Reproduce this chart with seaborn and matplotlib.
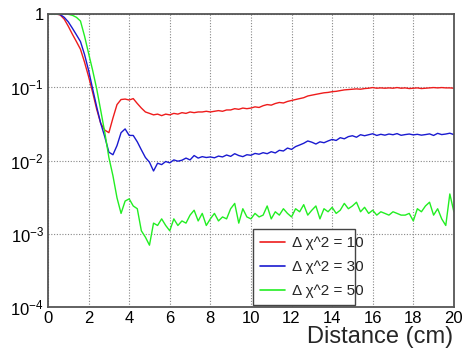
import numpy as np
import pandas as pd
import matplotlib
matplotlib.use("Agg")
import matplotlib.pyplot as plt
import seaborn as sns
from matplotlib.ticker import FixedLocator, LogLocator, NullFormatter, FixedFormatter
from matplotlib.lines import Line2D

distance = np.round(np.arange(0, 20.01, 0.2), 1)

red_10 = [1.0, 1.0, 1.0, 0.97, 0.85, 0.68, 0.53, 0.42, 0.33, 0.22,
          0.14, 0.085, 0.05, 0.032, 0.026, 0.024, 0.038, 0.058, 0.068, 0.069,
          0.067, 0.070, 0.060, 0.052, 0.046, 0.044, 0.042, 0.043, 0.041, 0.043,
          0.042, 0.044, 0.043, 0.045, 0.044, 0.046, 0.045, 0.046, 0.046, 0.047,
          0.046, 0.047, 0.048, 0.047, 0.049, 0.049, 0.051, 0.050, 0.052, 0.051,
          0.052, 0.054, 0.053, 0.056, 0.058, 0.057, 0.060, 0.062, 0.061, 0.064,
          0.066, 0.068, 0.070, 0.072, 0.076, 0.078, 0.080, 0.082, 0.084, 0.085,
          0.087, 0.088, 0.090, 0.092, 0.093, 0.094, 0.095, 0.094, 0.096, 0.097,
          0.099, 0.097, 0.098, 0.097, 0.098, 0.097, 0.099, 0.097, 0.098, 0.096,
          0.097, 0.098, 0.096, 0.097, 0.098, 0.099, 0.098, 0.099, 0.098, 0.098,
          0.097]

blue_30 = [1.0, 1.0, 1.0, 0.98, 0.90, 0.78, 0.64, 0.52, 0.42, 0.28,
           0.17, 0.095, 0.054, 0.032, 0.021, 0.013, 0.012, 0.016, 0.024, 0.027,
           0.022, 0.022, 0.018, 0.014, 0.011, 0.0095, 0.0072, 0.0092, 0.0088, 0.0097,
           0.0093, 0.0102, 0.0098, 0.0101, 0.0108, 0.0102, 0.0117, 0.0108, 0.0113, 0.0110,
           0.0112, 0.0109, 0.0115, 0.0112, 0.0119, 0.0114, 0.0124, 0.0117, 0.0113, 0.0120,
           0.0118, 0.0125, 0.0122, 0.0128, 0.0124, 0.0132, 0.0127, 0.0138, 0.0135, 0.0148,
           0.0142, 0.0155, 0.0163, 0.0172, 0.0185, 0.0178, 0.0168, 0.0180, 0.0175, 0.0185,
           0.0194, 0.0188, 0.0205, 0.0198, 0.0212, 0.0218, 0.0208, 0.0225, 0.0218, 0.0225,
           0.0232, 0.0220, 0.0228, 0.0222, 0.0230, 0.0225, 0.0233, 0.0221, 0.0226, 0.0230,
           0.0224, 0.0228, 0.0222, 0.0226, 0.0231, 0.0220, 0.0235, 0.0226, 0.0230, 0.0236,
           0.0226]

green_50 = [1.0, 1.0, 1.0, 1.0, 1.0, 0.99, 0.96, 0.90, 0.80, 0.50,
            0.29, 0.17, 0.095, 0.048, 0.024, 0.011, 0.0062, 0.0031, 0.0019, 0.0028,
            0.0030, 0.0024, 0.0022, 0.0011, 0.0009, 0.0007, 0.0014, 0.0013, 0.0016, 0.0013,
            0.0011, 0.0016, 0.0013, 0.0015, 0.0014, 0.0018, 0.0021, 0.0015, 0.0019, 0.0013,
            0.0016, 0.0019, 0.0015, 0.0017, 0.0016, 0.0022, 0.0026, 0.0014, 0.0022, 0.0017,
            0.0016, 0.0019, 0.0017, 0.0018, 0.0024, 0.0016, 0.0020, 0.0018, 0.0022, 0.0019,
            0.0017, 0.0022, 0.0020, 0.0025, 0.0018, 0.0021, 0.0024, 0.0016, 0.0022, 0.0020,
            0.0023, 0.0019, 0.0021, 0.0026, 0.0022, 0.0024, 0.0027, 0.0020, 0.0023, 0.0019,
            0.0021, 0.0018, 0.0020, 0.0019, 0.0018, 0.0020, 0.0019, 0.0018, 0.0018, 0.0019,
            0.0015, 0.0022, 0.0020, 0.0024, 0.0027, 0.0018, 0.0022, 0.0016, 0.0013, 0.0035,
            0.0020]

series_labels = ["Δ χ^2 = 10", "Δ χ^2 = 30", "Δ χ^2 = 50"]
series_colors = ["#ee1c1c", "#1a1ad0", "#22ee22"]
x_ticks = [0, 2, 4, 6, 8, 10, 12, 14, 16, 18, 20]
y_ticks = [1e-4, 1e-3, 1e-2, 1e-1, 1]
y_tick_labels = [r"$10^{-4}$", r"$10^{-3}$", r"$10^{-2}$", r"$10^{-1}$", "1"]

df = pd.concat([
    pd.DataFrame({"distance": distance, "value": vals, "series": lab})
    for vals, lab in zip([red_10, blue_30, green_50], series_labels)
])

sns.set_style("white")
plt.rcParams["font.family"] = ["Liberation Sans", "DejaVu Sans"]
plt.rcParams["mathtext.fontset"] = "custom"
plt.rcParams["mathtext.rm"] = "Liberation Sans"
plt.rcParams["mathtext.it"] = "Liberation Sans"

fig = plt.figure(figsize=(4.66, 3.49), dpi=100)
ax = fig.add_axes([0.103, 0.120, 0.871, 0.840])

sns.lineplot(data=df, x="distance", y="value", hue="series",
             palette=dict(zip(series_labels, series_colors)),
             linewidth=1.0, ax=ax, legend=False, estimator=None)

ax.set_yscale("log")
ax.set_xlim(0, 20)
ax.set_ylim(1e-4, 1)

ax.xaxis.set_major_locator(FixedLocator(x_ticks))
ax.xaxis.set_minor_locator(FixedLocator(np.arange(0, 20.01, 0.5)))
ax.set_xticklabels([str(t) for t in x_ticks])
ax.yaxis.set_major_locator(FixedLocator(y_ticks))
ax.yaxis.set_major_formatter(FixedFormatter(y_tick_labels))
ax.yaxis.set_minor_locator(LogLocator(base=10, subs=np.arange(2, 10), numticks=20))
ax.yaxis.set_minor_formatter(NullFormatter())

ax.grid(True, which="major", linestyle=(0, (1, 1.5)), color="#888888", linewidth=0.8)
ax.tick_params(axis="both", which="both", direction="in", top=False, right=False,
               colors="#444444", labelcolor="black", labelsize=12)
ax.tick_params(axis="x", which="major", length=7, width=1.0, pad=3)
ax.tick_params(axis="x", which="minor", length=3.5, width=0.8)
ax.tick_params(axis="y", which="major", length=8, width=1.0, pad=3)
ax.tick_params(axis="y", which="minor", length=4, width=0.8)

for s in ax.spines.values():
    s.set_color("#555555")
    s.set_linewidth(1.3)

ax.set_ylabel("")
ax.set_xlabel("")
fig.text(0.972, 0.016, "Distance (cm)", ha="right", va="baseline", fontsize=17)

handles = [Line2D([0], [0], color=c, linewidth=1.2) for c in series_colors]
leg = ax.legend(handles, series_labels, loc="lower left",
                bbox_to_anchor=(0.506, 0.008, 0.25, 0.25), mode="expand",
                fontsize=11, frameon=True, fancybox=False, framealpha=1,
                edgecolor="#444444", handlelength=1.6, handletextpad=0.5,
                borderaxespad=0, labelspacing=0.65, borderpad=0.45)
leg.get_frame().set_linewidth(1.0)

fig.savefig("out.png", dpi=100)
